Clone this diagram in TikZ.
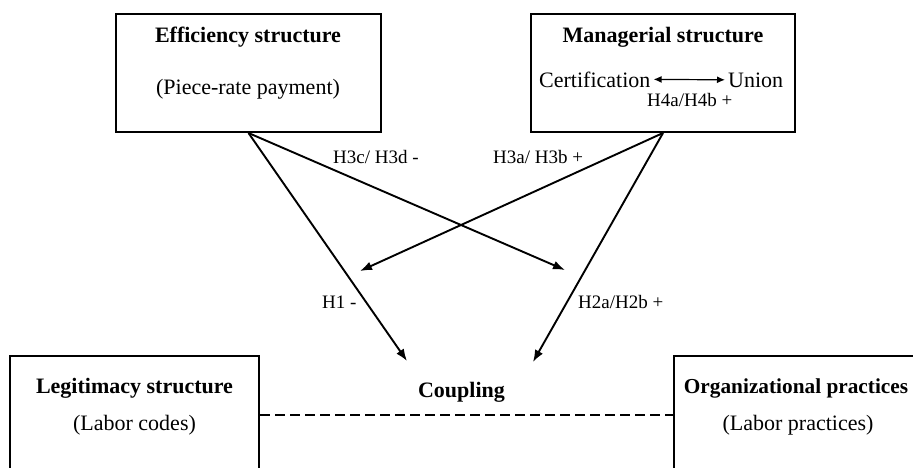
\documentclass[tikz,border=0pt]{standalone}
\usepackage{fontspec}
\setmainfont{Liberation Serif}
\usetikzlibrary{arrows.meta}

\tikzset{
	box/.style={draw, line width=2pt, rectangle, inner sep=0pt},
	titletext/.style={font=\fontsize{22}{26}\selectfont\bfseries, inner sep=0pt, anchor=base},
	subtext/.style={font=\fontsize{22}{26}\selectfont, inner sep=0pt, anchor=base},
	hyplabel/.style={font=\fontsize{19}{22}\selectfont, inner sep=0pt, anchor=base west},
	hyparrow/.style={line width=1.9pt, -{Latex[length=12pt,width=9pt]}},
}

\begin{document}
\begin{tikzpicture}[x=1pt, y=-1pt]
		\clip (0,0) rectangle (913,467);

		% Draw the boxes
		\node[box, minimum width=265pt, minimum height=118pt] (eff) at (248.5,73) {};
		\node[box, minimum width=264pt, minimum height=118pt] (man) at (663,73) {};
		\node[box, minimum width=249pt, minimum height=150pt] (leg) at (134.5,431) {};
		\node[box, minimum width=248pt, minimum height=150pt] (org) at (798,431) {};

		% Texts inside the boxes
		\node[titletext] (efftitle) at (248,42) {Efficiency structure};
		\node[subtext] (effsub) at (248,94) {(Piece-rate payment)};

		\node[titletext] (mantitle) at (663,42) {Managerial structure};
		\node[subtext, anchor=base west] (cert) at (539,87) {Certification};
		\node[subtext, anchor=base west] (union) at (728,87) {Union};
		\node[hyplabel] (hfour) at (647,106) {H4a/H4b +};

		\node[titletext] (legtitle) at (134.5,393) {Legitimacy structure};
		\node[subtext] (legsub) at (134.5,430) {(Labor codes)};

		\node[titletext, font=\fontsize{21.3}{26}\selectfont\bfseries] (orgtitle) at (796,393) {Organizational practices};
		\node[subtext] (orgsub) at (798,430) {(Labor practices)};

		\node[titletext] (coupling) at (461.5,397) {Coupling};

		% Free ends of the arrows
		\coordinate (hone) at (407,361);
		\coordinate (htwo) at (533,362);
		\coordinate (hthreec) at (565,270);
		\coordinate (hthreea) at (360,271);

		% Draw the arrows
		\draw[line width=1.2pt, {Latex[length=8pt,width=7pt]}-{Latex[length=8pt,width=7pt]}] ([xshift=3pt]cert.east) -- ([xshift=-3pt]union.west);
		\draw[hyparrow] (eff.south) -- (hone);
		\draw[hyparrow] (eff.south) -- (hthreec);
		\draw[hyparrow] (man.south) -- (hthreea);
		\draw[hyparrow] (man.south) -- (htwo);

		% Labels of the arrows
		\node[hyplabel] (lone) at (322,308) {H1 -};
		\node[hyplabel] (ltwo) at (578,308) {H2a/H2b +};
		\node[hyplabel] (lthreec) at (333,163) {H3c/ H3d -};
		\node[hyplabel] (lthreea) at (493,163) {H3a/ H3b +};

		% Dashed line between the boxes
		\draw[line width=1.9pt, dash pattern=on 10pt off 5pt] (leg.east |- 0,415) -- (org.west |- 0,415);
\end{tikzpicture}
\end{document}
